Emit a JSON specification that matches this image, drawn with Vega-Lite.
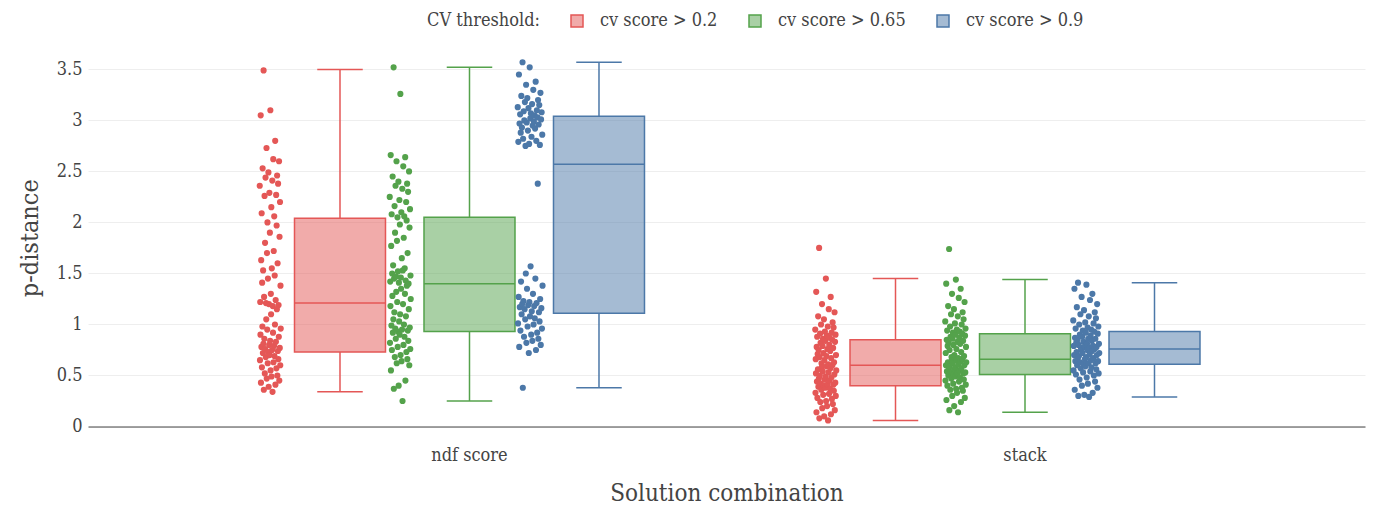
{
"$schema": "https://vega.github.io/schema/vega-lite/v6.json",
"width": 1277,
"height": 377.5,
"autosize": "none",
"padding": {"left": 88, "top": 49, "right": 10, "bottom": 79.5},
"background": "white",
"config": {
  "font": "DejaVu Serif Condensed",
  "view": {"stroke": null},
  "axis": {"labelFont": "DejaVu Serif Condensed", "titleFont": "DejaVu Serif Condensed", "labelColor": "#444", "titleColor": "#444", "titleFontWeight": "normal"},
  "legend": {"labelFont": "DejaVu Serif Condensed", "titleFont": "DejaVu Serif Condensed", "labelColor": "#444", "titleColor": "#444", "titleFontWeight": "normal"}
},
"datasets": {
  "box": [
    {"c":"ndf score","g":"cv score > 0.2","lo":0.34,"q1":0.73,"med":1.21,"q3":2.04,"hi":3.50},
    {"c":"ndf score","g":"cv score > 0.65","lo":0.25,"q1":0.93,"med":1.40,"q3":2.05,"hi":3.52},
    {"c":"ndf score","g":"cv score > 0.9","lo":0.38,"q1":1.11,"med":2.57,"q3":3.04,"hi":3.57},
    {"c":"stack","g":"cv score > 0.2","lo":0.06,"q1":0.40,"med":0.60,"q3":0.85,"hi":1.45},
    {"c":"stack","g":"cv score > 0.65","lo":0.14,"q1":0.51,"med":0.66,"q3":0.91,"hi":1.44},
    {"c":"stack","g":"cv score > 0.9","lo":0.29,"q1":0.61,"med":0.76,"q3":0.93,"hi":1.41}
  ],
  "pts": [
{"c":"ndf score","g":"cv score > 0.2","p":2.36},{"c":"ndf score","g":"cv score > 0.2","p":0.65},{"c":"ndf score","g":"cv score > 0.2","p":1.22},{"c":"ndf score","g":"cv score > 0.2","p":0.90},
{"c":"ndf score","g":"cv score > 0.2","p":3.05},{"c":"ndf score","g":"cv score > 0.2","p":0.43},{"c":"ndf score","g":"cv score > 0.2","p":1.63},{"c":"ndf score","g":"cv score > 0.2","p":0.78},
{"c":"ndf score","g":"cv score > 0.2","p":2.09},{"c":"ndf score","g":"cv score > 0.2","p":0.58},{"c":"ndf score","g":"cv score > 0.2","p":1.41},{"c":"ndf score","g":"cv score > 0.2","p":0.98},
{"c":"ndf score","g":"cv score > 0.2","p":2.53},{"c":"ndf score","g":"cv score > 0.2","p":0.72},{"c":"ndf score","g":"cv score > 0.2","p":1.53},{"c":"ndf score","g":"cv score > 0.2","p":0.81},
{"c":"ndf score","g":"cv score > 0.2","p":3.49},{"c":"ndf score","g":"cv score > 0.2","p":0.36},{"c":"ndf score","g":"cv score > 0.2","p":1.27},{"c":"ndf score","g":"cv score > 0.2","p":0.86},
{"c":"ndf score","g":"cv score > 0.2","p":2.26},{"c":"ndf score","g":"cv score > 0.2","p":0.52},{"c":"ndf score","g":"cv score > 0.2","p":1.80},{"c":"ndf score","g":"cv score > 0.2","p":0.76},
{"c":"ndf score","g":"cv score > 0.2","p":2.44},{"c":"ndf score","g":"cv score > 0.2","p":0.68},{"c":"ndf score","g":"cv score > 0.2","p":1.21},{"c":"ndf score","g":"cv score > 0.2","p":1.05},
{"c":"ndf score","g":"cv score > 0.2","p":2.73},{"c":"ndf score","g":"cv score > 0.2","p":0.47},{"c":"ndf score","g":"cv score > 0.2","p":1.70},{"c":"ndf score","g":"cv score > 0.2","p":0.95},
{"c":"ndf score","g":"cv score > 0.2","p":2.00},{"c":"ndf score","g":"cv score > 0.2","p":0.62},{"c":"ndf score","g":"cv score > 0.2","p":1.45},{"c":"ndf score","g":"cv score > 0.2","p":0.73},
{"c":"ndf score","g":"cv score > 0.2","p":2.49},{"c":"ndf score","g":"cv score > 0.2","p":0.39},{"c":"ndf score","g":"cv score > 0.2","p":1.20},{"c":"ndf score","g":"cv score > 0.2","p":0.80},
{"c":"ndf score","g":"cv score > 0.2","p":2.29},{"c":"ndf score","g":"cv score > 0.2","p":0.70},{"c":"ndf score","g":"cv score > 0.2","p":1.90},{"c":"ndf score","g":"cv score > 0.2","p":0.84},
{"c":"ndf score","g":"cv score > 0.2","p":3.10},{"c":"ndf score","g":"cv score > 0.2","p":0.55},{"c":"ndf score","g":"cv score > 0.2","p":1.30},{"c":"ndf score","g":"cv score > 0.2","p":1.10},
{"c":"ndf score","g":"cv score > 0.2","p":2.15},{"c":"ndf score","g":"cv score > 0.2","p":0.49},{"c":"ndf score","g":"cv score > 0.2","p":1.55},{"c":"ndf score","g":"cv score > 0.2","p":0.75},
{"c":"ndf score","g":"cv score > 0.2","p":2.41},{"c":"ndf score","g":"cv score > 0.2","p":0.34},{"c":"ndf score","g":"cv score > 0.2","p":1.18},{"c":"ndf score","g":"cv score > 0.2","p":0.92},
{"c":"ndf score","g":"cv score > 0.2","p":2.62},{"c":"ndf score","g":"cv score > 0.2","p":0.63},{"c":"ndf score","g":"cv score > 0.2","p":1.72},{"c":"ndf score","g":"cv score > 0.2","p":0.79},
{"c":"ndf score","g":"cv score > 0.2","p":2.06},{"c":"ndf score","g":"cv score > 0.2","p":0.69},{"c":"ndf score","g":"cv score > 0.2","p":1.48},{"c":"ndf score","g":"cv score > 0.2","p":1.00},
{"c":"ndf score","g":"cv score > 0.2","p":2.80},{"c":"ndf score","g":"cv score > 0.2","p":0.41},{"c":"ndf score","g":"cv score > 0.2","p":1.24},{"c":"ndf score","g":"cv score > 0.2","p":0.83},
{"c":"ndf score","g":"cv score > 0.2","p":2.27},{"c":"ndf score","g":"cv score > 0.2","p":0.57},{"c":"ndf score","g":"cv score > 0.2","p":1.97},{"c":"ndf score","g":"cv score > 0.2","p":1.15},
{"c":"ndf score","g":"cv score > 0.2","p":2.46},{"c":"ndf score","g":"cv score > 0.2","p":0.50},{"c":"ndf score","g":"cv score > 0.2","p":1.60},{"c":"ndf score","g":"cv score > 0.2","p":0.74},
{"c":"ndf score","g":"cv score > 0.2","p":2.38},{"c":"ndf score","g":"cv score > 0.2","p":0.66},{"c":"ndf score","g":"cv score > 0.2","p":1.19},{"c":"ndf score","g":"cv score > 0.2","p":0.88},
{"c":"ndf score","g":"cv score > 0.2","p":2.60},{"c":"ndf score","g":"cv score > 0.2","p":0.45},{"c":"ndf score","g":"cv score > 0.2","p":1.86},{"c":"ndf score","g":"cv score > 0.2","p":0.77},
{"c":"ndf score","g":"cv score > 0.2","p":2.20},{"c":"ndf score","g":"cv score > 0.2","p":0.60},{"c":"ndf score","g":"cv score > 0.2","p":1.38},{"c":"ndf score","g":"cv score > 0.2","p":0.96},
{"c":"ndf score","g":"cv score > 0.65","p":2.25},{"c":"ndf score","g":"cv score > 0.65","p":0.82},{"c":"ndf score","g":"cv score > 0.65","p":1.42},{"c":"ndf score","g":"cv score > 0.65","p":1.18},
{"c":"ndf score","g":"cv score > 0.65","p":2.66},{"c":"ndf score","g":"cv score > 0.65","p":0.55},{"c":"ndf score","g":"cv score > 0.65","p":1.77},{"c":"ndf score","g":"cv score > 0.65","p":0.99},
{"c":"ndf score","g":"cv score > 0.65","p":2.08},{"c":"ndf score","g":"cv score > 0.65","p":0.75},{"c":"ndf score","g":"cv score > 0.65","p":1.50},{"c":"ndf score","g":"cv score > 0.65","p":1.28},
{"c":"ndf score","g":"cv score > 0.65","p":2.45},{"c":"ndf score","g":"cv score > 0.65","p":0.92},{"c":"ndf score","g":"cv score > 0.65","p":1.58},{"c":"ndf score","g":"cv score > 0.65","p":1.05},
{"c":"ndf score","g":"cv score > 0.65","p":3.52},{"c":"ndf score","g":"cv score > 0.65","p":0.37},{"c":"ndf score","g":"cv score > 0.65","p":1.45},{"c":"ndf score","g":"cv score > 0.65","p":1.12},
{"c":"ndf score","g":"cv score > 0.65","p":2.16},{"c":"ndf score","g":"cv score > 0.65","p":0.68},{"c":"ndf score","g":"cv score > 0.65","p":1.90},{"c":"ndf score","g":"cv score > 0.65","p":0.96},
{"c":"ndf score","g":"cv score > 0.65","p":2.36},{"c":"ndf score","g":"cv score > 0.65","p":0.86},{"c":"ndf score","g":"cv score > 0.65","p":1.47},{"c":"ndf score","g":"cv score > 0.65","p":1.32},
{"c":"ndf score","g":"cv score > 0.65","p":2.60},{"c":"ndf score","g":"cv score > 0.65","p":0.62},{"c":"ndf score","g":"cv score > 0.65","p":1.82},{"c":"ndf score","g":"cv score > 0.65","p":1.22},
{"c":"ndf score","g":"cv score > 0.65","p":2.05},{"c":"ndf score","g":"cv score > 0.65","p":0.78},{"c":"ndf score","g":"cv score > 0.65","p":1.52},{"c":"ndf score","g":"cv score > 0.65","p":0.93},
{"c":"ndf score","g":"cv score > 0.65","p":2.40},{"c":"ndf score","g":"cv score > 0.65","p":0.40},{"c":"ndf score","g":"cv score > 0.65","p":1.41},{"c":"ndf score","g":"cv score > 0.65","p":1.03},
{"c":"ndf score","g":"cv score > 0.65","p":2.22},{"c":"ndf score","g":"cv score > 0.65","p":0.90},{"c":"ndf score","g":"cv score > 0.65","p":1.98},{"c":"ndf score","g":"cv score > 0.65","p":1.10},
{"c":"ndf score","g":"cv score > 0.65","p":3.26},{"c":"ndf score","g":"cv score > 0.65","p":0.70},{"c":"ndf score","g":"cv score > 0.65","p":1.46},{"c":"ndf score","g":"cv score > 0.65","p":1.35},
{"c":"ndf score","g":"cv score > 0.65","p":2.10},{"c":"ndf score","g":"cv score > 0.65","p":0.64},{"c":"ndf score","g":"cv score > 0.65","p":1.65},{"c":"ndf score","g":"cv score > 0.65","p":0.95},
{"c":"ndf score","g":"cv score > 0.65","p":2.33},{"c":"ndf score","g":"cv score > 0.65","p":0.25},{"c":"ndf score","g":"cv score > 0.65","p":1.53},{"c":"ndf score","g":"cv score > 0.65","p":1.20},
{"c":"ndf score","g":"cv score > 0.65","p":2.55},{"c":"ndf score","g":"cv score > 0.65","p":0.80},{"c":"ndf score","g":"cv score > 0.65","p":1.85},{"c":"ndf score","g":"cv score > 0.65","p":1.00},
{"c":"ndf score","g":"cv score > 0.65","p":2.06},{"c":"ndf score","g":"cv score > 0.65","p":0.88},{"c":"ndf score","g":"cv score > 0.65","p":1.55},{"c":"ndf score","g":"cv score > 0.65","p":1.30},
{"c":"ndf score","g":"cv score > 0.65","p":2.64},{"c":"ndf score","g":"cv score > 0.65","p":0.45},{"c":"ndf score","g":"cv score > 0.65","p":1.43},{"c":"ndf score","g":"cv score > 0.65","p":1.08},
{"c":"ndf score","g":"cv score > 0.65","p":2.20},{"c":"ndf score","g":"cv score > 0.65","p":0.73},{"c":"ndf score","g":"cv score > 0.65","p":2.02},{"c":"ndf score","g":"cv score > 0.65","p":1.38},
{"c":"ndf score","g":"cv score > 0.65","p":2.38},{"c":"ndf score","g":"cv score > 0.65","p":0.66},{"c":"ndf score","g":"cv score > 0.65","p":1.70},{"c":"ndf score","g":"cv score > 0.65","p":0.94},
{"c":"ndf score","g":"cv score > 0.65","p":2.30},{"c":"ndf score","g":"cv score > 0.65","p":0.84},{"c":"ndf score","g":"cv score > 0.65","p":1.40},{"c":"ndf score","g":"cv score > 0.65","p":1.15},
{"c":"ndf score","g":"cv score > 0.65","p":2.50},{"c":"ndf score","g":"cv score > 0.65","p":0.60},{"c":"ndf score","g":"cv score > 0.65","p":1.95},{"c":"ndf score","g":"cv score > 0.65","p":0.97},
{"c":"ndf score","g":"cv score > 0.65","p":2.13},{"c":"ndf score","g":"cv score > 0.65","p":0.76},{"c":"ndf score","g":"cv score > 0.65","p":1.48},{"c":"ndf score","g":"cv score > 0.65","p":1.25},
{"c":"ndf score","g":"cv score > 0.9","p":3.13},{"c":"ndf score","g":"cv score > 0.9","p":1.01},{"c":"ndf score","g":"cv score > 0.9","p":2.79},{"c":"ndf score","g":"cv score > 0.9","p":1.27},
{"c":"ndf score","g":"cv score > 0.9","p":3.45},{"c":"ndf score","g":"cv score > 0.9","p":0.78},{"c":"ndf score","g":"cv score > 0.9","p":2.97},{"c":"ndf score","g":"cv score > 0.9","p":1.17},
{"c":"ndf score","g":"cv score > 0.9","p":3.06},{"c":"ndf score","g":"cv score > 0.9","p":0.94},{"c":"ndf score","g":"cv score > 0.9","p":2.88},{"c":"ndf score","g":"cv score > 0.9","p":1.42},
{"c":"ndf score","g":"cv score > 0.9","p":3.24},{"c":"ndf score","g":"cv score > 0.9","p":1.10},{"c":"ndf score","g":"cv score > 0.9","p":2.93},{"c":"ndf score","g":"cv score > 0.9","p":1.20},
{"c":"ndf score","g":"cv score > 0.9","p":3.57},{"c":"ndf score","g":"cv score > 0.9","p":0.38},{"c":"ndf score","g":"cv score > 0.9","p":2.82},{"c":"ndf score","g":"cv score > 0.9","p":1.23},
{"c":"ndf score","g":"cv score > 0.9","p":3.09},{"c":"ndf score","g":"cv score > 0.9","p":0.88},{"c":"ndf score","g":"cv score > 0.9","p":3.00},{"c":"ndf score","g":"cv score > 0.9","p":1.15},
{"c":"ndf score","g":"cv score > 0.9","p":3.18},{"c":"ndf score","g":"cv score > 0.9","p":1.05},{"c":"ndf score","g":"cv score > 0.9","p":2.75},{"c":"ndf score","g":"cv score > 0.9","p":1.50},
{"c":"ndf score","g":"cv score > 0.9","p":3.35},{"c":"ndf score","g":"cv score > 0.9","p":0.82},{"c":"ndf score","g":"cv score > 0.9","p":2.98},{"c":"ndf score","g":"cv score > 0.9","p":1.35},
{"c":"ndf score","g":"cv score > 0.9","p":3.22},{"c":"ndf score","g":"cv score > 0.9","p":0.98},{"c":"ndf score","g":"cv score > 0.9","p":2.90},{"c":"ndf score","g":"cv score > 0.9","p":1.19},
{"c":"ndf score","g":"cv score > 0.9","p":3.12},{"c":"ndf score","g":"cv score > 0.9","p":0.72},{"c":"ndf score","g":"cv score > 0.9","p":2.77},{"c":"ndf score","g":"cv score > 0.9","p":1.22},
{"c":"ndf score","g":"cv score > 0.9","p":3.52},{"c":"ndf score","g":"cv score > 0.9","p":1.08},{"c":"ndf score","g":"cv score > 0.9","p":3.02},{"c":"ndf score","g":"cv score > 0.9","p":1.57},
{"c":"ndf score","g":"cv score > 0.9","p":3.07},{"c":"ndf score","g":"cv score > 0.9","p":0.90},{"c":"ndf score","g":"cv score > 0.9","p":2.84},{"c":"ndf score","g":"cv score > 0.9","p":1.13},
{"c":"ndf score","g":"cv score > 0.9","p":3.16},{"c":"ndf score","g":"cv score > 0.9","p":0.84},{"c":"ndf score","g":"cv score > 0.9","p":2.95},{"c":"ndf score","g":"cv score > 0.9","p":1.30},
{"c":"ndf score","g":"cv score > 0.9","p":3.30},{"c":"ndf score","g":"cv score > 0.9","p":1.00},{"c":"ndf score","g":"cv score > 0.9","p":2.99},{"c":"ndf score","g":"cv score > 0.9","p":1.18},
{"c":"ndf score","g":"cv score > 0.9","p":3.05},{"c":"ndf score","g":"cv score > 0.9","p":1.06},{"c":"ndf score","g":"cv score > 0.9","p":2.92},{"c":"ndf score","g":"cv score > 0.9","p":1.45},
{"c":"ndf score","g":"cv score > 0.9","p":3.38},{"c":"ndf score","g":"cv score > 0.9","p":0.75},{"c":"ndf score","g":"cv score > 0.9","p":2.80},{"c":"ndf score","g":"cv score > 0.9","p":1.21},
{"c":"ndf score","g":"cv score > 0.9","p":3.10},{"c":"ndf score","g":"cv score > 0.9","p":0.92},{"c":"ndf score","g":"cv score > 0.9","p":3.03},{"c":"ndf score","g":"cv score > 0.9","p":2.38},
{"c":"ndf score","g":"cv score > 0.9","p":3.20},{"c":"ndf score","g":"cv score > 0.9","p":0.86},{"c":"ndf score","g":"cv score > 0.9","p":2.96},{"c":"ndf score","g":"cv score > 0.9","p":1.12},
{"c":"ndf score","g":"cv score > 0.9","p":3.15},{"c":"ndf score","g":"cv score > 0.9","p":1.03},{"c":"ndf score","g":"cv score > 0.9","p":2.76},{"c":"ndf score","g":"cv score > 0.9","p":1.25},
{"c":"ndf score","g":"cv score > 0.9","p":3.27},{"c":"ndf score","g":"cv score > 0.9","p":0.80},{"c":"ndf score","g":"cv score > 0.9","p":3.01},{"c":"ndf score","g":"cv score > 0.9","p":1.16},
{"c":"ndf score","g":"cv score > 0.9","p":3.08},{"c":"ndf score","g":"cv score > 0.9","p":0.96},{"c":"ndf score","g":"cv score > 0.9","p":2.86},{"c":"ndf score","g":"cv score > 0.9","p":1.38},
{"c":"stack","g":"cv score > 0.2","p":0.95},{"c":"stack","g":"cv score > 0.2","p":0.33},{"c":"stack","g":"cv score > 0.2","p":0.66},{"c":"stack","g":"cv score > 0.2","p":0.52},
{"c":"stack","g":"cv score > 0.2","p":1.32},{"c":"stack","g":"cv score > 0.2","p":0.14},{"c":"stack","g":"cv score > 0.2","p":0.78},{"c":"stack","g":"cv score > 0.2","p":0.44},
{"c":"stack","g":"cv score > 0.2","p":0.88},{"c":"stack","g":"cv score > 0.2","p":0.28},{"c":"stack","g":"cv score > 0.2","p":0.71},{"c":"stack","g":"cv score > 0.2","p":0.56},
{"c":"stack","g":"cv score > 0.2","p":1.08},{"c":"stack","g":"cv score > 0.2","p":0.39},{"c":"stack","g":"cv score > 0.2","p":0.75},{"c":"stack","g":"cv score > 0.2","p":0.47},
{"c":"stack","g":"cv score > 0.2","p":1.75},{"c":"stack","g":"cv score > 0.2","p":0.08},{"c":"stack","g":"cv score > 0.2","p":0.68},{"c":"stack","g":"cv score > 0.2","p":0.50},
{"c":"stack","g":"cv score > 0.2","p":0.91},{"c":"stack","g":"cv score > 0.2","p":0.24},{"c":"stack","g":"cv score > 0.2","p":0.82},{"c":"stack","g":"cv score > 0.2","p":0.42},
{"c":"stack","g":"cv score > 0.2","p":1.00},{"c":"stack","g":"cv score > 0.2","p":0.36},{"c":"stack","g":"cv score > 0.2","p":0.62},{"c":"stack","g":"cv score > 0.2","p":0.58},
{"c":"stack","g":"cv score > 0.2","p":1.20},{"c":"stack","g":"cv score > 0.2","p":0.18},{"c":"stack","g":"cv score > 0.2","p":0.79},{"c":"stack","g":"cv score > 0.2","p":0.54},
{"c":"stack","g":"cv score > 0.2","p":0.86},{"c":"stack","g":"cv score > 0.2","p":0.31},{"c":"stack","g":"cv score > 0.2","p":0.72},{"c":"stack","g":"cv score > 0.2","p":0.40},
{"c":"stack","g":"cv score > 0.2","p":1.05},{"c":"stack","g":"cv score > 0.2","p":0.10},{"c":"stack","g":"cv score > 0.2","p":0.65},{"c":"stack","g":"cv score > 0.2","p":0.46},
{"c":"stack","g":"cv score > 0.2","p":0.93},{"c":"stack","g":"cv score > 0.2","p":0.38},{"c":"stack","g":"cv score > 0.2","p":0.84},{"c":"stack","g":"cv score > 0.2","p":0.49},
{"c":"stack","g":"cv score > 0.2","p":1.45},{"c":"stack","g":"cv score > 0.2","p":0.25},{"c":"stack","g":"cv score > 0.2","p":0.69},{"c":"stack","g":"cv score > 0.2","p":0.59},
{"c":"stack","g":"cv score > 0.2","p":0.89},{"c":"stack","g":"cv score > 0.2","p":0.20},{"c":"stack","g":"cv score > 0.2","p":0.76},{"c":"stack","g":"cv score > 0.2","p":0.41},
{"c":"stack","g":"cv score > 0.2","p":0.98},{"c":"stack","g":"cv score > 0.2","p":0.06},{"c":"stack","g":"cv score > 0.2","p":0.61},{"c":"stack","g":"cv score > 0.2","p":0.53},
{"c":"stack","g":"cv score > 0.2","p":1.15},{"c":"stack","g":"cv score > 0.2","p":0.32},{"c":"stack","g":"cv score > 0.2","p":0.80},{"c":"stack","g":"cv score > 0.2","p":0.45},
{"c":"stack","g":"cv score > 0.2","p":0.87},{"c":"stack","g":"cv score > 0.2","p":0.37},{"c":"stack","g":"cv score > 0.2","p":0.74},{"c":"stack","g":"cv score > 0.2","p":0.57},
{"c":"stack","g":"cv score > 0.2","p":1.27},{"c":"stack","g":"cv score > 0.2","p":0.12},{"c":"stack","g":"cv score > 0.2","p":0.67},{"c":"stack","g":"cv score > 0.2","p":0.48},
{"c":"stack","g":"cv score > 0.2","p":0.92},{"c":"stack","g":"cv score > 0.2","p":0.27},{"c":"stack","g":"cv score > 0.2","p":0.85},{"c":"stack","g":"cv score > 0.2","p":0.60},
{"c":"stack","g":"cv score > 0.2","p":1.02},{"c":"stack","g":"cv score > 0.2","p":0.22},{"c":"stack","g":"cv score > 0.2","p":0.77},{"c":"stack","g":"cv score > 0.2","p":0.41},
{"c":"stack","g":"cv score > 0.2","p":0.97},{"c":"stack","g":"cv score > 0.2","p":0.35},{"c":"stack","g":"cv score > 0.2","p":0.63},{"c":"stack","g":"cv score > 0.2","p":0.51},
{"c":"stack","g":"cv score > 0.2","p":1.12},{"c":"stack","g":"cv score > 0.2","p":0.16},{"c":"stack","g":"cv score > 0.2","p":0.83},{"c":"stack","g":"cv score > 0.2","p":0.43},
{"c":"stack","g":"cv score > 0.2","p":0.90},{"c":"stack","g":"cv score > 0.2","p":0.30},{"c":"stack","g":"cv score > 0.2","p":0.70},{"c":"stack","g":"cv score > 0.2","p":0.55},
{"c":"stack","g":"cv score > 0.65","p":1.03},{"c":"stack","g":"cv score > 0.65","p":0.45},{"c":"stack","g":"cv score > 0.65","p":0.72},{"c":"stack","g":"cv score > 0.65","p":0.60},
{"c":"stack","g":"cv score > 0.65","p":1.40},{"c":"stack","g":"cv score > 0.65","p":0.26},{"c":"stack","g":"cv score > 0.65","p":0.85},{"c":"stack","g":"cv score > 0.65","p":0.54},
{"c":"stack","g":"cv score > 0.65","p":0.94},{"c":"stack","g":"cv score > 0.65","p":0.40},{"c":"stack","g":"cv score > 0.65","p":0.79},{"c":"stack","g":"cv score > 0.65","p":0.63},
{"c":"stack","g":"cv score > 0.65","p":1.18},{"c":"stack","g":"cv score > 0.65","p":0.50},{"c":"stack","g":"cv score > 0.65","p":0.82},{"c":"stack","g":"cv score > 0.65","p":0.56},
{"c":"stack","g":"cv score > 0.65","p":1.74},{"c":"stack","g":"cv score > 0.65","p":0.16},{"c":"stack","g":"cv score > 0.65","p":0.75},{"c":"stack","g":"cv score > 0.65","p":0.59},
{"c":"stack","g":"cv score > 0.65","p":0.98},{"c":"stack","g":"cv score > 0.65","p":0.36},{"c":"stack","g":"cv score > 0.65","p":0.88},{"c":"stack","g":"cv score > 0.65","p":0.53},
{"c":"stack","g":"cv score > 0.65","p":1.10},{"c":"stack","g":"cv score > 0.65","p":0.47},{"c":"stack","g":"cv score > 0.65","p":0.68},{"c":"stack","g":"cv score > 0.65","p":0.65},
{"c":"stack","g":"cv score > 0.65","p":1.30},{"c":"stack","g":"cv score > 0.65","p":0.30},{"c":"stack","g":"cv score > 0.65","p":0.86},{"c":"stack","g":"cv score > 0.65","p":0.62},
{"c":"stack","g":"cv score > 0.65","p":0.92},{"c":"stack","g":"cv score > 0.65","p":0.42},{"c":"stack","g":"cv score > 0.65","p":0.80},{"c":"stack","g":"cv score > 0.65","p":0.51},
{"c":"stack","g":"cv score > 0.65","p":1.15},{"c":"stack","g":"cv score > 0.65","p":0.20},{"c":"stack","g":"cv score > 0.65","p":0.70},{"c":"stack","g":"cv score > 0.65","p":0.56},
{"c":"stack","g":"cv score > 0.65","p":1.01},{"c":"stack","g":"cv score > 0.65","p":0.49},{"c":"stack","g":"cv score > 0.65","p":0.90},{"c":"stack","g":"cv score > 0.65","p":0.58},
{"c":"stack","g":"cv score > 0.65","p":1.44},{"c":"stack","g":"cv score > 0.65","p":0.37},{"c":"stack","g":"cv score > 0.65","p":0.76},{"c":"stack","g":"cv score > 0.65","p":0.65},
{"c":"stack","g":"cv score > 0.65","p":0.95},{"c":"stack","g":"cv score > 0.65","p":0.33},{"c":"stack","g":"cv score > 0.65","p":0.83},{"c":"stack","g":"cv score > 0.65","p":0.52},
{"c":"stack","g":"cv score > 0.65","p":1.08},{"c":"stack","g":"cv score > 0.65","p":0.14},{"c":"stack","g":"cv score > 0.65","p":0.67},{"c":"stack","g":"cv score > 0.65","p":0.61},
{"c":"stack","g":"cv score > 0.65","p":1.26},{"c":"stack","g":"cv score > 0.65","p":0.44},{"c":"stack","g":"cv score > 0.65","p":0.87},{"c":"stack","g":"cv score > 0.65","p":0.55},
{"c":"stack","g":"cv score > 0.65","p":0.93},{"c":"stack","g":"cv score > 0.65","p":0.48},{"c":"stack","g":"cv score > 0.65","p":0.81},{"c":"stack","g":"cv score > 0.65","p":0.64},
{"c":"stack","g":"cv score > 0.65","p":1.35},{"c":"stack","g":"cv score > 0.65","p":0.24},{"c":"stack","g":"cv score > 0.65","p":0.73},{"c":"stack","g":"cv score > 0.65","p":0.57},
{"c":"stack","g":"cv score > 0.65","p":1.00},{"c":"stack","g":"cv score > 0.65","p":0.38},{"c":"stack","g":"cv score > 0.65","p":0.91},{"c":"stack","g":"cv score > 0.65","p":0.66},
{"c":"stack","g":"cv score > 0.65","p":1.12},{"c":"stack","g":"cv score > 0.65","p":0.35},{"c":"stack","g":"cv score > 0.65","p":0.84},{"c":"stack","g":"cv score > 0.65","p":0.52},
{"c":"stack","g":"cv score > 0.65","p":1.05},{"c":"stack","g":"cv score > 0.65","p":0.46},{"c":"stack","g":"cv score > 0.65","p":0.69},{"c":"stack","g":"cv score > 0.65","p":0.60},
{"c":"stack","g":"cv score > 0.65","p":1.22},{"c":"stack","g":"cv score > 0.65","p":0.28},{"c":"stack","g":"cv score > 0.65","p":0.89},{"c":"stack","g":"cv score > 0.65","p":0.53},
{"c":"stack","g":"cv score > 0.65","p":0.96},{"c":"stack","g":"cv score > 0.65","p":0.41},{"c":"stack","g":"cv score > 0.65","p":0.78},{"c":"stack","g":"cv score > 0.65","p":0.63},
{"c":"stack","g":"cv score > 0.9","p":1.04},{"c":"stack","g":"cv score > 0.9","p":0.55},{"c":"stack","g":"cv score > 0.9","p":0.79},{"c":"stack","g":"cv score > 0.9","p":0.70},
{"c":"stack","g":"cv score > 0.9","p":1.35},{"c":"stack","g":"cv score > 0.9","p":0.36},{"c":"stack","g":"cv score > 0.9","p":0.87},{"c":"stack","g":"cv score > 0.9","p":0.64},
{"c":"stack","g":"cv score > 0.9","p":0.96},{"c":"stack","g":"cv score > 0.9","p":0.51},{"c":"stack","g":"cv score > 0.9","p":0.82},{"c":"stack","g":"cv score > 0.9","p":0.73},
{"c":"stack","g":"cv score > 0.9","p":1.17},{"c":"stack","g":"cv score > 0.9","p":0.60},{"c":"stack","g":"cv score > 0.9","p":0.85},{"c":"stack","g":"cv score > 0.9","p":0.67},
{"c":"stack","g":"cv score > 0.9","p":1.41},{"c":"stack","g":"cv score > 0.9","p":0.30},{"c":"stack","g":"cv score > 0.9","p":0.80},{"c":"stack","g":"cv score > 0.9","p":0.69},
{"c":"stack","g":"cv score > 0.9","p":1.00},{"c":"stack","g":"cv score > 0.9","p":0.46},{"c":"stack","g":"cv score > 0.9","p":0.90},{"c":"stack","g":"cv score > 0.9","p":0.63},
{"c":"stack","g":"cv score > 0.9","p":1.10},{"c":"stack","g":"cv score > 0.9","p":0.57},{"c":"stack","g":"cv score > 0.9","p":0.77},{"c":"stack","g":"cv score > 0.9","p":0.75},
{"c":"stack","g":"cv score > 0.9","p":1.27},{"c":"stack","g":"cv score > 0.9","p":0.40},{"c":"stack","g":"cv score > 0.9","p":0.88},{"c":"stack","g":"cv score > 0.9","p":0.72},
{"c":"stack","g":"cv score > 0.9","p":0.94},{"c":"stack","g":"cv score > 0.9","p":0.53},{"c":"stack","g":"cv score > 0.9","p":0.83},{"c":"stack","g":"cv score > 0.9","p":0.61},
{"c":"stack","g":"cv score > 0.9","p":1.14},{"c":"stack","g":"cv score > 0.9","p":0.31},{"c":"stack","g":"cv score > 0.9","p":0.78},{"c":"stack","g":"cv score > 0.9","p":0.66},
{"c":"stack","g":"cv score > 0.9","p":1.02},{"c":"stack","g":"cv score > 0.9","p":0.59},{"c":"stack","g":"cv score > 0.9","p":0.92},{"c":"stack","g":"cv score > 0.9","p":0.68},
{"c":"stack","g":"cv score > 0.9","p":1.39},{"c":"stack","g":"cv score > 0.9","p":0.48},{"c":"stack","g":"cv score > 0.9","p":0.81},{"c":"stack","g":"cv score > 0.9","p":0.75},
{"c":"stack","g":"cv score > 0.9","p":0.97},{"c":"stack","g":"cv score > 0.9","p":0.42},{"c":"stack","g":"cv score > 0.9","p":0.86},{"c":"stack","g":"cv score > 0.9","p":0.62},
{"c":"stack","g":"cv score > 0.9","p":1.08},{"c":"stack","g":"cv score > 0.9","p":0.29},{"c":"stack","g":"cv score > 0.9","p":0.77},{"c":"stack","g":"cv score > 0.9","p":0.71},
{"c":"stack","g":"cv score > 0.9","p":1.24},{"c":"stack","g":"cv score > 0.9","p":0.54},{"c":"stack","g":"cv score > 0.9","p":0.89},{"c":"stack","g":"cv score > 0.9","p":0.65},
{"c":"stack","g":"cv score > 0.9","p":0.95},{"c":"stack","g":"cv score > 0.9","p":0.58},{"c":"stack","g":"cv score > 0.9","p":0.84},{"c":"stack","g":"cv score > 0.9","p":0.74},
{"c":"stack","g":"cv score > 0.9","p":1.30},{"c":"stack","g":"cv score > 0.9","p":0.33},{"c":"stack","g":"cv score > 0.9","p":0.79},{"c":"stack","g":"cv score > 0.9","p":0.67},
{"c":"stack","g":"cv score > 0.9","p":1.01},{"c":"stack","g":"cv score > 0.9","p":0.50},{"c":"stack","g":"cv score > 0.9","p":0.93},{"c":"stack","g":"cv score > 0.9","p":0.76},
{"c":"stack","g":"cv score > 0.9","p":1.12},{"c":"stack","g":"cv score > 0.9","p":0.44},{"c":"stack","g":"cv score > 0.9","p":0.86},{"c":"stack","g":"cv score > 0.9","p":0.62},
{"c":"stack","g":"cv score > 0.9","p":1.06},{"c":"stack","g":"cv score > 0.9","p":0.56},{"c":"stack","g":"cv score > 0.9","p":0.78},{"c":"stack","g":"cv score > 0.9","p":0.70},
{"c":"stack","g":"cv score > 0.9","p":1.20},{"c":"stack","g":"cv score > 0.9","p":0.38},{"c":"stack","g":"cv score > 0.9","p":0.91},{"c":"stack","g":"cv score > 0.9","p":0.64},
{"c":"stack","g":"cv score > 0.9","p":0.98},{"c":"stack","g":"cv score > 0.9","p":0.52},{"c":"stack","g":"cv score > 0.9","p":0.81},{"c":"stack","g":"cv score > 0.9","p":0.72}
  ]
},
"encoding": {
  "x": {"field": "c", "type": "nominal", "title": "Solution combination",
        "scale": {"domain": ["ndf score", "stack"], "paddingInner": 0, "paddingOuter": 0.1494, "align": 0.625},
        "axis": {"labelAngle": 0, "ticks": false, "domainColor": "#444", "domainWidth": 1, "labelFontSize": 18, "labelPadding": 20, "titleFontSize": 24, "titlePadding": 17, "grid": false}}
},
"layer": [
  {
    "data": {"name": "box"},
    "mark": {"type": "rule", "strokeWidth": 1.5},
    "encoding": {
      "xOffset": {"field": "g", "type": "nominal", "scale": {"domain": ["cv score > 0.2", "cv score > 0.65", "cv score > 0.9"], "paddingInner": 0.2973, "paddingOuter": 0.7935}},
      "y": {"field": "lo", "type": "quantitative", "title": "p-distance",
            "scale": {"domain": [0, 3.7], "nice": false, "zero": true},
            "axis": {"values": [0, 0.5, 1, 1.5, 2, 2.5, 3, 3.5], "format": ".1~f", "domain": false, "ticks": false, "grid": true, "gridColor": "#eeeeee", "gridWidth": 1, "labelFontSize": 18, "labelPadding": 6, "titleFontSize": 25, "titlePadding": 14}},
      "y2": {"field": "q1"},
      "color": {
        "field": "g", "type": "nominal",
        "scale": {"domain": ["cv score > 0.2", "cv score > 0.65", "cv score > 0.9"], "range": ["#E45756", "#54A24B", "#4C78A8"]},
        "legend": {
          "title": "CV threshold:", "orient": "none", "legendX": 339, "legendY": -37, "direction": "horizontal", "titleOrient": "left", "titlePadding": 28, "titleFontSize": 18, "labelFontSize": 18, "symbolType": "square", "symbolSize": 144, "labelOffset": 14, "columnPadding": 28,
          "encode": {
            "symbols": {
              "update": {
                "fill": {"scale": "color", "field": "value"},
                "fillOpacity": {"value": 0.5},
                "stroke": {"scale": "color", "field": "value"},
                "strokeWidth": {"value": 1.5},
                "opacity": {"value": 1}
              }
            }
          }
        }
      }
    }
  },
  {
    "data": {"name": "box"},
    "mark": {"type": "rule", "strokeWidth": 1.5},
    "encoding": {
      "xOffset": {"field": "g", "type": "nominal", "scale": {"domain": ["cv score > 0.2", "cv score > 0.65", "cv score > 0.9"], "paddingInner": 0.2973, "paddingOuter": 0.7935}},
      "y": {"field": "q3", "type": "quantitative"},
      "y2": {"field": "hi"},
      "color": {"field": "g", "type": "nominal"}
    }
  },
  {
    "data": {"name": "box"},
    "mark": {"type": "bar", "fillOpacity": 0.5, "strokeWidth": 1.5},
    "encoding": {
      "xOffset": {"field": "g", "type": "nominal", "scale": {"domain": ["cv score > 0.2", "cv score > 0.65", "cv score > 0.9"], "paddingInner": 0.2973, "paddingOuter": 0.7935}},
      "y": {"field": "q1", "type": "quantitative"},
      "y2": {"field": "q3"},
      "color": {"field": "g", "type": "nominal"},
      "stroke": {"field": "g", "type": "nominal", "scale": {"domain": ["cv score > 0.2", "cv score > 0.65", "cv score > 0.9"], "range": ["#E45756", "#54A24B", "#4C78A8"]}, "legend": null}
    }
  },
  {
    "data": {"name": "box"},
    "mark": {"type": "tick", "orient": "horizontal", "size": 91, "thickness": 1.5, "opacity": 1},
    "encoding": {
      "xOffset": {"field": "g", "type": "nominal", "scale": {"domain": ["cv score > 0.2", "cv score > 0.65", "cv score > 0.9"], "paddingInner": 0.2973, "paddingOuter": 0.7935}},
      "y": {"field": "med", "type": "quantitative"},
      "color": {"field": "g", "type": "nominal"}
    }
  },
  {
    "data": {"name": "box"},
    "mark": {"type": "tick", "orient": "horizontal", "size": 45.5, "thickness": 1.5, "opacity": 1},
    "encoding": {
      "xOffset": {"field": "g", "type": "nominal", "scale": {"domain": ["cv score > 0.2", "cv score > 0.65", "cv score > 0.9"], "paddingInner": 0.2973, "paddingOuter": 0.7935}},
      "y": {"field": "lo", "type": "quantitative"},
      "color": {"field": "g", "type": "nominal"}
    }
  },
  {
    "data": {"name": "box"},
    "mark": {"type": "tick", "orient": "horizontal", "size": 45.5, "thickness": 1.5, "opacity": 1},
    "encoding": {
      "xOffset": {"field": "g", "type": "nominal", "scale": {"domain": ["cv score > 0.2", "cv score > 0.65", "cv score > 0.9"], "paddingInner": 0.2973, "paddingOuter": 0.7935}},
      "y": {"field": "hi", "type": "quantitative"},
      "color": {"field": "g", "type": "nominal"}
    }
  },
  {
    "data": {"name": "pts"},
    "transform": [{"filter": "datum.g === 'cv score > 0.2'"}, {"window": [{"op": "row_number", "as": "i"}], "groupby": ["c"]}],
    "mark": {"type": "circle", "size": 38, "opacity": 1},
    "encoding": {
      "xOffset": {"field": "i", "type": "quantitative", "scale": {"domain": [1, 88], "range": [68, 89]}},
      "y": {"field": "p", "type": "quantitative"},
      "color": {"field": "g", "type": "nominal"}
    }
  },
  {
    "data": {"name": "pts"},
    "transform": [{"filter": "datum.g === 'cv score > 0.65'"}, {"window": [{"op": "row_number", "as": "i"}], "groupby": ["c"]}],
    "mark": {"type": "circle", "size": 38, "opacity": 1},
    "encoding": {
      "xOffset": {"field": "i", "type": "quantitative", "scale": {"domain": [1, 88], "range": [198, 219]}},
      "y": {"field": "p", "type": "quantitative"},
      "color": {"field": "g", "type": "nominal"}
    }
  },
  {
    "data": {"name": "pts"},
    "transform": [{"filter": "datum.g === 'cv score > 0.9'"}, {"window": [{"op": "row_number", "as": "i"}], "groupby": ["c"]}],
    "mark": {"type": "circle", "size": 38, "opacity": 1},
    "encoding": {
      "xOffset": {"field": "i", "type": "quantitative", "scale": {"domain": [1, 88], "range": [326, 352]}},
      "y": {"field": "p", "type": "quantitative"},
      "color": {"field": "g", "type": "nominal"}
    }
  }
],
"resolve": {"scale": {"xOffset": "independent"}}
}
